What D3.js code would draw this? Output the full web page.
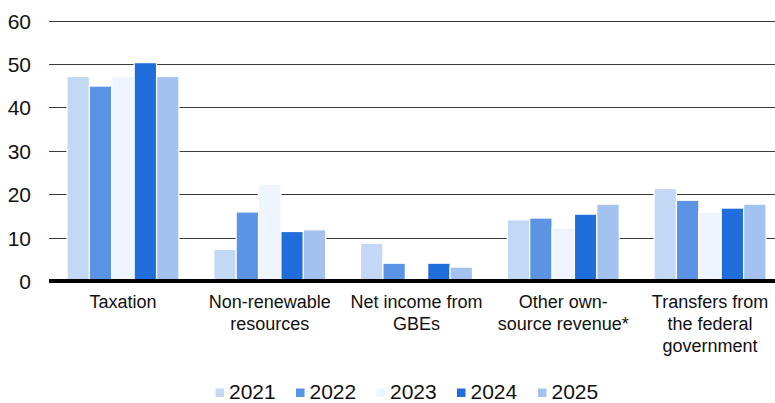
<!DOCTYPE html>
<html><head><meta charset="utf-8">
<script src="https://cdn.jsdelivr.net/npm/d3@7"></script>
<style>body{margin:0;background:#fff}svg{display:block;font-family:"Liberation Sans",Arial,sans-serif}</style>
</head><body>
<svg id="c" width="775" height="403"></svg>
<script>
const categories = [["Taxation"],["Non-renewable","resources"],["Net income from","GBEs"],["Other own-","source revenue*"],["Transfers from","the federal","government"]];
const years = ["2021","2022","2023","2024","2025"];
const colors = ["#c3d8f5","#5b94e4","#eef5fe","#206ddc","#a3c2f0"];
const values = {
  "2021":[47.1,7.3,8.7,14.1,21.3],
  "2022":[44.9,15.9,4.1,14.5,18.6],
  "2023":[47.1,22.3,0.5,12.2,15.9],
  "2024":[50.3,11.4,4.1,15.4,16.8],
  "2025":[47.1,11.8,3.2,17.7,17.7]
};
const yTicks = [0,10,20,30,40,50,60];

const svg = d3.select("#c");
const catKeys = categories.map(c=>c.join(" "));
const x0 = d3.scaleBand().domain(catKeys).range([49.6,783.4]).padding(0);
const x1 = d3.scaleBand().domain(years).range([17.4, x0.bandwidth()-17.4]).padding(0);
const y = d3.scaleLinear().domain([0,60]).range([281,20.5]);
const color = d3.scaleOrdinal().domain(years).range(colors);

// gridlines
svg.append("g").selectAll("line").data(yTicks.filter(t=>t>0)).join("line")
  .attr("x1",49).attr("x2",775)
  .attr("y1",d=>Math.round(y(d))+0.5).attr("y2",d=>Math.round(y(d))+0.5)
  .attr("stroke","#3a3a3a").attr("stroke-width",1);

// y labels
const yAxis = d3.axisLeft(y).tickValues(yTicks).tickSize(0).tickPadding(0);
const ga = svg.append("g").attr("transform","translate(31,0)").call(yAxis);
ga.select(".domain").remove();
ga.selectAll("text").attr("font-size",21).attr("fill","#111").attr("font-family","Liberation Sans, Arial, sans-serif").attr("dy","0.36em");

// bars
const groups = svg.append("g").selectAll("g").data(catKeys).join("g")
  .attr("transform",d=>`translate(${x0(d)},0)`);
groups.selectAll("rect").data((d,i)=>years.map(yr=>({yr, v:values[yr][i]}))).join("rect")
  .attr("x",d=>x1(d.yr)).attr("width",x1.bandwidth())
  .attr("y",d=>y(d.v)).attr("height",d=>y(0)-y(d.v))
  .attr("fill",d=>color(d.yr))
  .attr("stroke","#fff").attr("stroke-width",1.2);

// baseline
svg.append("line").attr("x1",49).attr("x2",775).attr("y1",y(0)).attr("y2",y(0))
  .attr("stroke","#000").attr("stroke-width",4);

// category labels
const lab = svg.append("g").selectAll("text").data(categories).join("text")
  .attr("x",(d,i)=>x0(catKeys[i])+x0.bandwidth()/2)
  .attr("y",308).attr("text-anchor","middle").attr("font-size",18).attr("fill","#111");
lab.selectAll("tspan").data(d=>d).join("tspan")
  .attr("x",function(){return this.parentNode.getAttribute("x");})
  .attr("dy",(d,i)=>i===0?0:22).text(d=>d);

// legend
const legX = [215.5,296,376.5,457,538];
const leg = svg.append("g").selectAll("g").data(years).join("g")
  .attr("transform",(d,i)=>`translate(${legX[i]},0)`);
leg.append("rect").attr("x",0).attr("y",388.5).attr("width",8.5).attr("height",8.5).attr("fill",d=>color(d));
leg.append("text").attr("x",13.5).attr("y",398.5).attr("font-size",21).attr("fill","#111").text(d=>d);
</script>
</body></html>
